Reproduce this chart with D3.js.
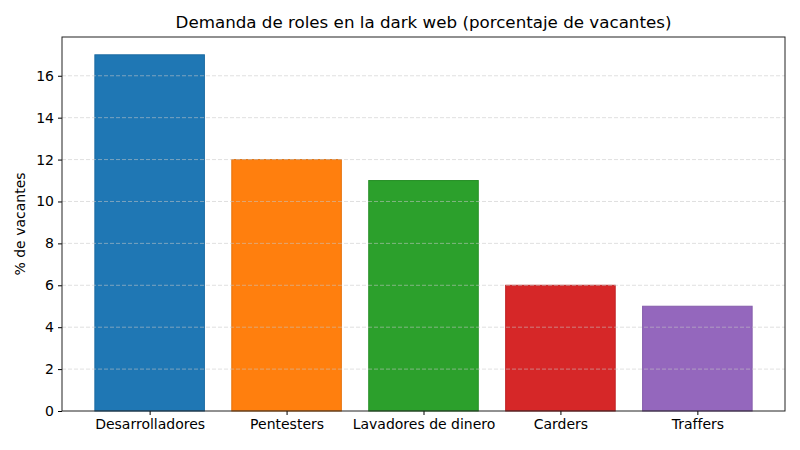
<!DOCTYPE html>
<html lang="es">
<head>
  <meta charset="UTF-8">
  <title>Demanda de roles en la dark web</title>
  <script src="https://d3js.org/d3.v7.min.js"></script>
  <style>
    body { margin: 0; background: #fff; }
    svg text { font-family: "DejaVu Sans", sans-serif; fill: #000; }
  </style>
</head>
<body>
<svg id="chart" width="800" height="450"></svg>
<script>
// data
const roles = ["Desarrolladores", "Pentesters", "Lavadores de dinero", "Carders", "Traffers"];
const vacantes = [17, 12, 11, 6, 5];
const colores = ["#1f77b4", "#ff7f0e", "#2ca02c", "#d62728", "#9467bd"];
const yTicks = [0, 2, 4, 6, 8, 10, 12, 14, 16];

const width = 800, height = 450;
const margin = { top: 37, right: 15, bottom: 39, left: 62 };
const innerW = width - margin.left - margin.right;
const innerH = height - margin.top - margin.bottom;

const svg = d3.select("#chart");
const g = svg.append("g").attr("transform", `translate(${margin.left},${margin.top})`);

// matplotlib-like x: bar width 0.8, 5% margins
const x = d3.scaleLinear().domain([-0.64, roles.length - 1 + 0.64]).range([0, innerW]);
const y = d3.scaleLinear().domain([0, d3.max(vacantes) * 1.05]).range([innerH, 0]);
const barW = x(0.8) - x(0);

// bars
g.selectAll("rect.bar")
  .data(roles)
  .enter().append("rect")
  .attr("class", "bar")
  .attr("x", (d, i) => x(i - 0.4))
  .attr("y", (d, i) => y(vacantes[i]))
  .attr("width", barW)
  .attr("height", (d, i) => innerH - y(vacantes[i]))
  .attr("fill", (d, i) => colores[i])
  .attr("stroke", (d, i) => d3.color(colores[i]).darker(0.3))
  .attr("stroke-width", 1);

// grid on top of bars
g.append("g")
  .selectAll("line")
  .data(yTicks.slice(1))
  .enter().append("line")
  .attr("x1", 0).attr("x2", innerW)
  .attr("y1", d => y(d)).attr("y2", d => y(d))
  .attr("stroke", "#c8c8c8")
  .attr("stroke-opacity", 0.7)
  .attr("stroke-dasharray", "4,2")
  .attr("stroke-width", 0.8);

// axes
const yAxis = g.append("g")
  .call(d3.axisLeft(y).tickValues(yTicks).tickSize(4).tickPadding(4));
const xAxis = g.append("g")
  .attr("transform", `translate(0,${innerH})`)
  .call(d3.axisBottom(x).tickValues(d3.range(roles.length)).tickFormat(i => roles[i]).tickSize(4).tickPadding(4));

[yAxis, xAxis].forEach(a => {
  a.selectAll("text").style("font-size", "14px");
  a.selectAll("line").attr("stroke", "#000").attr("stroke-width", 1);
  a.select(".domain").remove();
});

// frame
g.append("rect")
  .attr("width", innerW).attr("height", innerH)
  .attr("fill", "none").attr("stroke", "#222").attr("stroke-width", 1);

// title
svg.append("text")
  .attr("x", margin.left + innerW / 2)
  .attr("y", 28)
  .attr("text-anchor", "middle")
  .style("font-size", "16.7px")
  .text("Demanda de roles en la dark web (porcentaje de vacantes)");

// y label
svg.append("text")
  .attr("transform", `translate(25,${margin.top + innerH / 2}) rotate(-90)`)
  .attr("text-anchor", "middle")
  .style("font-size", "14px")
  .text("% de vacantes");
</script>
</body>
</html>
